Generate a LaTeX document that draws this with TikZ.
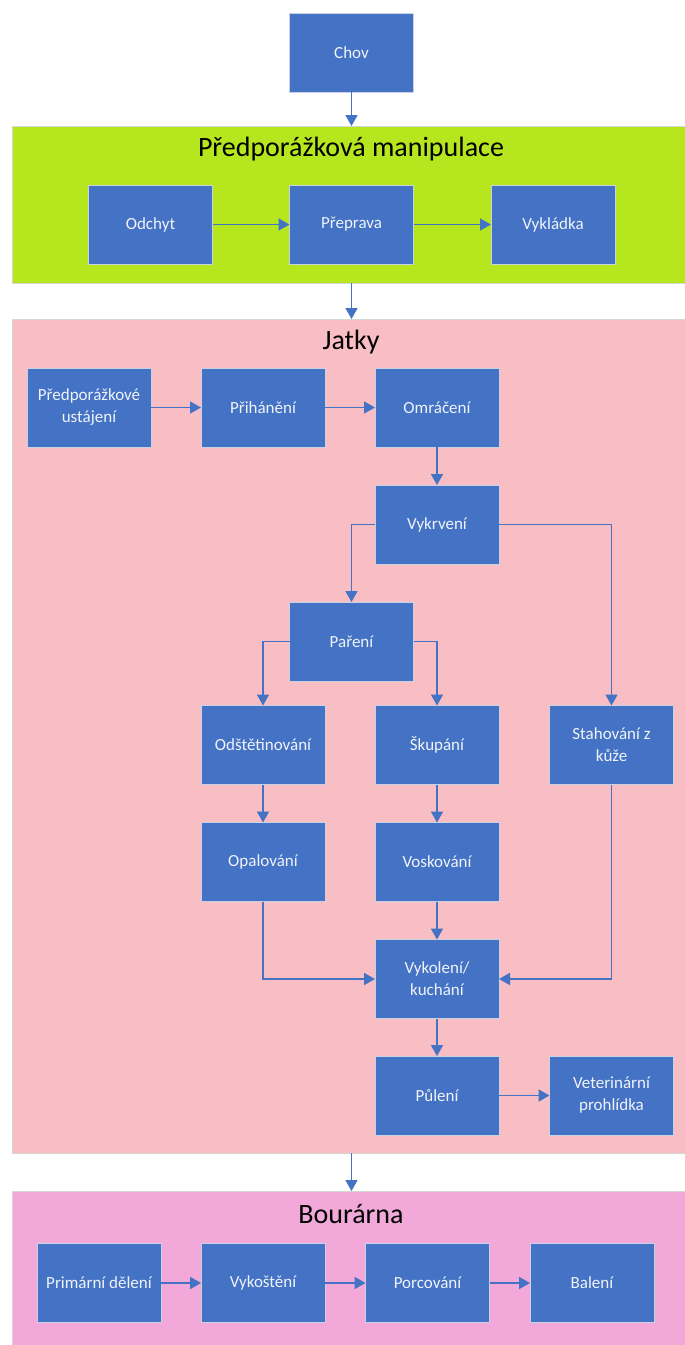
\documentclass[tikz,border=0pt]{standalone}
\usepackage{fontspec}
\setmainfont{Carlito}
\usetikzlibrary{arrows.meta}
\definecolor{boxblue}{HTML}{4472C4}
\definecolor{boxedge}{RGB}{200,210,228}
\definecolor{boxtext}{RGB}{240,243,250}
\definecolor{bandgreen}{RGB}{182,230,29}
\definecolor{bandpink}{RGB}{248,190,196}
\definecolor{bandmagenta}{RGB}{242,168,216}
\definecolor{bandedge}{RGB}{215,215,210}
\tikzset{
  stepbox/.style={draw=boxedge, line width=0.8pt, fill=boxblue, text=boxtext,
    minimum width=124pt, minimum height=79pt, inner sep=2pt, outer sep=0pt,
    align=center, font=\fontsize{17}{22}\selectfont},
  band/.style={draw=bandedge, line width=0.8pt, anchor=north west,
    minimum width=674pt, inner sep=0pt, outer sep=0pt},
  bandtitle/.style={font=\fontsize{28}{32}\selectfont, text=black, inner sep=0pt},
  flow/.style={draw=boxblue, line width=1.7pt,
    -{Triangle[length=11pt,width=12pt]}},
}
\begin{document}
\begin{tikzpicture}[x=1pt,y=-1pt]
\useasboundingbox (0,0) rectangle (685,1345);

% stage backgrounds
\node[band, fill=bandgreen, minimum height=157pt] (manip) at (12,126) {};
\node[band, fill=bandpink, minimum height=834pt] (jatky) at (12,319) {};
\node[band, fill=bandmagenta, minimum height=160pt] (bourarna) at (12,1191) {};

\node[bandtitle] (tmanip) at (351,149) {Předporážková manipulace};
\node[bandtitle] (tjatky) at (351,342) {Jatky};
\node[bandtitle] (tbour) at (351,1214) {Bourárna};

% rearing
\node[stepbox] (chov) at (351.5,52.5) {Chov};

% pre-slaughter handling
\node[stepbox] (odchyt) at (150.5,224.5) {Odchyt};
\node[stepbox] (preprava) at (351.5,224.5) {Přeprava};
\node[stepbox] (vykladka) at (553,224.5) {Vykládka};

% slaughterhouse
\node[stepbox] (ustajeni) at (89,407.5) {Předporážkové\\ustájení};
\node[stepbox] (prihaneni) at (263,407.5) {Přihánění};
\node[stepbox] (omraceni) at (437,407.5) {Omráčení};
\node[stepbox] (vykrveni) at (437,524.5) {Vykrvení};
\node[stepbox] (pareni) at (351.5,641.5) {Paření};
\node[stepbox] (odstet) at (263,745) {Odštětinování};
\node[stepbox] (skupani) at (437,745) {Škupání};
\node[stepbox] (stahovani) at (611.5,745) {Stahování z\\kůže};
\node[stepbox] (opalovani) at (263,862) {Opalování};
\node[stepbox] (voskovani) at (437,862) {Voskování};
\node[stepbox] (vykoleni) at (437,979) {Vykolení/\\kuchání};
\node[stepbox] (puleni) at (437,1095.5) {Půlení};
\node[stepbox] (veter) at (611.5,1095.5) {Veterinární\\prohlídka};

% cutting plant
\node[stepbox] (primarni) at (99,1283) {Primární dělení};
\node[stepbox] (vykosteni) at (263,1283) {Vykoštění};
\node[stepbox] (porcovani) at (427.5,1283) {Porcování};
\node[stepbox] (baleni) at (592,1283) {Balení};

% flow between stages
\draw[flow] (chov) -- (chov |- manip.north);
\draw[flow] (manip.south -| chov) -- (jatky.north -| chov);
\draw[flow] (jatky.south -| chov) -- (bourarna.north -| chov);

% pre-slaughter handling
\draw[flow] (odchyt) -- (preprava);
\draw[flow] (preprava) -- (vykladka);

% slaughterhouse
\draw[flow] (ustajeni) -- (prihaneni);
\draw[flow] (prihaneni) -- (omraceni);
\draw[flow] (omraceni) -- (vykrveni);
\draw[flow] (vykrveni.west) -| (pareni.north);
\draw[flow] (vykrveni.east) -| (stahovani.north);
\draw[flow] (pareni.west) -| (odstet.north);
\draw[flow] (pareni.east) -| (skupani.north);
\draw[flow] (odstet) -- (opalovani);
\draw[flow] (skupani) -- (voskovani);
\draw[flow] (voskovani) -- (vykoleni);
\draw[flow] (opalovani.south) |- (vykoleni.west);
\draw[flow] (stahovani.south) |- (vykoleni.east);
\draw[flow] (vykoleni) -- (puleni);
\draw[flow] (puleni) -- (veter);

% cutting plant
\draw[flow] (primarni) -- (vykosteni);
\draw[flow] (vykosteni) -- (porcovani);
\draw[flow] (porcovani) -- (baleni);
\end{tikzpicture}
\end{document}
